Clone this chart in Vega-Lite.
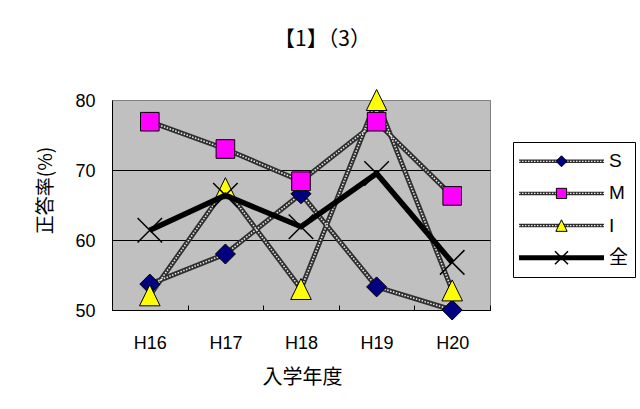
{
  "$schema": "https://vega.github.io/schema/vega-lite/v6.json",
  "background": "white",
  "padding": {"left": 35, "top": 29, "right": 0, "bottom": 0},
  "title": {
    "text": "【1】（3）",
    "font": "Noto Sans CJK JP",
    "fontSize": 21,
    "fontWeight": "normal",
    "color": "black",
    "anchor": "middle",
    "offset": 37,
    "dx": -13
  },
  "config": {"font": "Liberation Sans"},
  "datasets": {
    "scores": [
      {"year": "H16", "series": "S", "rate": 53.7},
      {"year": "H17", "series": "S", "rate": 58.0},
      {"year": "H18", "series": "S", "rate": 66.6},
      {"year": "H19", "series": "S", "rate": 53.3},
      {"year": "H20", "series": "S", "rate": 50.0},
      {"year": "H16", "series": "M", "rate": 76.9},
      {"year": "H17", "series": "M", "rate": 73.0},
      {"year": "H18", "series": "M", "rate": 68.4},
      {"year": "H19", "series": "M", "rate": 76.9},
      {"year": "H20", "series": "M", "rate": 66.3},
      {"year": "H16", "series": "I", "rate": 52.1},
      {"year": "H17", "series": "I", "rate": 67.4},
      {"year": "H18", "series": "I", "rate": 53.0},
      {"year": "H19", "series": "I", "rate": 80.0},
      {"year": "H20", "series": "I", "rate": 52.8},
      {"year": "H16", "series": "全", "rate": 61.4},
      {"year": "H17", "series": "全", "rate": 66.4},
      {"year": "H18", "series": "全", "rate": 61.9},
      {"year": "H19", "series": "全", "rate": 69.5},
      {"year": "H20", "series": "全", "rate": 56.8}
    ],
    "keys": [
      {"series": "S"},
      {"series": "M"},
      {"series": "I"},
      {"series": "全"}
    ]
  },
  "spacing": 21,
  "hconcat": [
    {
      "width": 378,
      "height": 210,
      "view": {"fill": "#c0c0c0", "stroke": "#808080", "strokeWidth": 1},
      "data": {"name": "scores"},
      "encoding": {
        "x": {
          "field": "year",
          "type": "ordinal",
          "scale": {"type": "band", "paddingInner": 0, "paddingOuter": 0},
          "axis": {
            "title": "入学年度",
            "labelAngle": 0,
            "labelFont": "Liberation Sans",
            "labelFontSize": 18,
            "labelColor": "black",
            "labelPadding": 29,
            "domainColor": "black",
            "domainWidth": 1,
            "tickColor": "black",
            "tickBand": "extent",
            "tickSize": -5,
            "grid": false,
            "titleFont": "Noto Sans CJK JP",
            "titleFontSize": 20,
            "titleFontWeight": "normal",
            "titleColor": "black",
            "titleBaseline": "middle",
            "titleX": 190,
            "titleY": 67
          }
        },
        "y": {
          "field": "rate",
          "type": "quantitative",
          "scale": {"domain": [50, 80], "nice": false, "zero": false},
          "axis": {
            "title": "正答率(%)",
            "values": [50, 60, 70, 80],
            "ticks": false,
            "labelPadding": 17,
            "labelFont": "Liberation Sans",
            "labelFontSize": 18,
            "labelColor": "black",
            "labelOffset": 1,
            "domainColor": "black",
            "domainWidth": 1,
            "grid": true,
            "gridColor": {"condition": {"test": "datum.value === 80", "value": "#808080"}, "value": "black"},
            "gridWidth": 1,
            "gridOpacity": 1,
            "titleFont": "Noto Sans CJK JP",
            "titleFontSize": 19,
            "titleFontWeight": "normal",
            "titleColor": "black",
            "titleBaseline": "middle",
            "titleX": -67,
            "titleY": 90
          }
        }
      },
      "layer": [
        {
          "transform": [{"filter": "datum.series !== '全'"}],
          "mark": {"type": "line", "stroke": "#2e2e2e", "strokeWidth": 5},
          "encoding": {"detail": {"field": "series", "type": "nominal"}}
        },
        {
          "transform": [{"filter": "datum.series !== '全'"}],
          "mark": {"type": "line", "stroke": "#e8e8e8", "strokeWidth": 1.6, "strokeDash": [1.5, 1.5]},
          "encoding": {"detail": {"field": "series", "type": "nominal"}}
        },
        {
          "transform": [{"filter": "datum.series !== '全'"}],
          "mark": {"type": "point", "filled": true, "stroke": "black", "strokeWidth": 1, "opacity": 1, "size": 400},
          "encoding": {
            "shape": {
              "field": "series",
              "type": "nominal",
              "scale": {
                "domain": ["S", "M", "I"],
                "range": ["diamond", "M-0.93,-0.93L0.93,-0.93L0.93,0.93L-0.93,0.93Z", "M0,-1.05L1.03,1.05L-1.03,1.05Z"]
              },
              "legend": null
            },
            "fill": {
              "field": "series",
              "type": "nominal",
              "scale": {"domain": ["S", "M", "I"], "range": ["#000080", "#ff00ff", "#ffff00"]},
              "legend": null
            }
          }
        },
        {
          "transform": [{"filter": "datum.series === '全'"}],
          "mark": {"type": "line", "stroke": "black", "strokeWidth": 5.5},
          "encoding": {}
        },
        {
          "transform": [{"filter": "datum.series === '全'"}],
          "mark": {
            "type": "point",
            "filled": false,
            "shape": "M-1,-1L1,1M1,-1L-1,1",
            "size": 600,
            "stroke": "black",
            "strokeWidth": 1.5,
            "opacity": 1
          },
          "encoding": {}
        }
      ]
    },
    {
      "spacing": 20,
      "vconcat": [
        {
          "width": 122,
          "height": 21,
          "view": {"stroke": null, "fill": null},
          "data": {"values": []},
          "mark": "text",
          "encoding": {}
        },
        {
          "width": 122,
          "height": 135,
          "view": {"fill": "white", "stroke": "black", "strokeWidth": 1},
          "data": {"name": "keys"},
          "encoding": {
            "y": {
              "field": "series",
              "type": "nominal",
              "sort": ["S", "M", "I", "全"],
              "scale": {"type": "point", "padding": 0.6},
              "axis": null
            }
          },
          "layer": [
            {
              "transform": [{"filter": "datum.series !== '全'"}],
              "mark": {"type": "rule", "stroke": "#2e2e2e", "strokeWidth": 3.5},
              "encoding": {
                "x": {"datum": 0, "type": "quantitative", "scale": {"domain": [0, 1], "range": [6, 91]}, "axis": null},
                "x2": {"datum": 1}
              }
            },
            {
              "transform": [{"filter": "datum.series !== '全'"}],
              "mark": {"type": "rule", "stroke": "#e8e8e8", "strokeWidth": 1.3, "strokeDash": [1.5, 1.5]},
              "encoding": {
                "x": {"datum": 0, "type": "quantitative", "scale": {"domain": [0, 1], "range": [6, 91]}, "axis": null},
                "x2": {"datum": 1}
              }
            },
            {
              "transform": [{"filter": "datum.series === '全'"}],
              "mark": {"type": "rule", "stroke": "black", "strokeWidth": 5},
              "encoding": {
                "x": {"datum": 0, "type": "quantitative", "scale": {"domain": [0, 1], "range": [6, 91]}, "axis": null},
                "x2": {"datum": 1}
              }
            },
            {
              "transform": [{"filter": "datum.series !== '全'"}],
              "mark": {"type": "point", "filled": true, "stroke": "black", "strokeWidth": 1, "opacity": 1, "size": 121},
              "encoding": {
                "x": {"datum": 0.5, "type": "quantitative", "scale": {"domain": [0, 1], "range": [6, 91]}, "axis": null},
                "shape": {
                  "field": "series",
                  "type": "nominal",
                  "scale": {
                    "domain": ["S", "M", "I"],
                    "range": ["diamond", "M-0.93,-0.93L0.93,-0.93L0.93,0.93L-0.93,0.93Z", "M0,-1.05L1.03,1.05L-1.03,1.05Z"]
                  },
                  "legend": null
                },
                "fill": {
                  "field": "series",
                  "type": "nominal",
                  "scale": {"domain": ["S", "M", "I"], "range": ["#000080", "#ff00ff", "#ffff00"]},
                  "legend": null
                }
              }
            },
            {
              "transform": [{"filter": "datum.series === '全'"}],
              "mark": {
                "type": "point",
                "filled": false,
                "shape": "M-1,-1L1,1M1,-1L-1,1",
                "size": 169,
                "stroke": "black",
                "strokeWidth": 1.5,
                "opacity": 1
              },
              "encoding": {
                "x": {"datum": 0.5, "type": "quantitative", "scale": {"domain": [0, 1], "range": [6, 91]}, "axis": null}
              }
            },
            {
              "mark": {
                "type": "text",
                "align": "left",
                "baseline": "middle",
                "dx": 5,
                "fontSize": 19,
                "font": "Liberation Sans, Noto Sans CJK JP",
                "color": "black"
              },
              "encoding": {
                "x": {"datum": 1, "type": "quantitative", "scale": {"domain": [0, 1], "range": [6, 91]}, "axis": null},
                "text": {"field": "series", "type": "nominal"}
              }
            }
          ]
        }
      ]
    }
  ]
}
